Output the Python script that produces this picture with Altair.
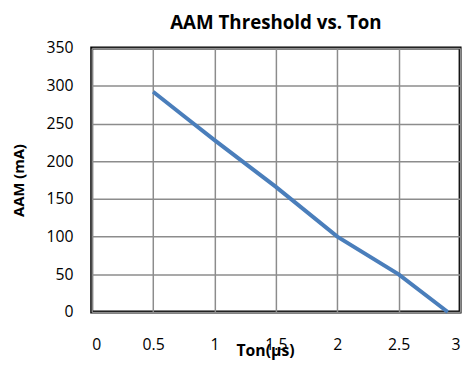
import altair as alt
import pandas as pd

ton_us = [0.5, 0.75, 1.0, 1.5, 2.0, 2.5, 2.9]
aam_ma = [292, 260, 228, 166, 100, 50, 0]
x_ticks = [0, 0.5, 1, 1.5, 2, 2.5, 3]
y_ticks = [0, 50, 100, 150, 200, 250, 300, 350]

df = pd.DataFrame({"ton": ton_us, "aam": aam_ma})

FONT = "Open Sans"

chart = alt.Chart(df).mark_line(color="#4a7ebb", strokeWidth=4, strokeCap="butt").encode(
    x=alt.X("ton:Q", scale=alt.Scale(domain=[0, 3], nice=False),
            axis=alt.Axis(values=x_ticks, title="Ton(µs)", format="~g",
                          labelPadding=25, titleX=176, titleY=44, titleBaseline="alphabetic",
                          titleFontSize=16, titleAnchor=None)),
    y=alt.Y("aam:Q", scale=alt.Scale(domain=[0, 350], nice=False),
            axis=alt.Axis(values=y_ticks, title="AAM (mA)",
                          labelPadding=19, titleX=-74, titleY=134, titleAngle=270,
                          titleFontSize=15, titleBaseline="middle")),
).properties(
    width=374, height=268,
    title=alt.TitleParams("AAM Threshold vs. Ton", anchor="middle", offset=7,
                          font=FONT, fontSize=19, fontWeight="bold", color="black"),
    padding={"left": 85, "top": 38, "right": 6, "bottom": 46},
    autosize=alt.AutoSizeParams(type="none"),
).configure_view(
    stroke="black", strokeWidth=3
).configure_axis(
    grid=True, gridColor="#8c8c8c", gridWidth=1.5, ticks=False, domain=False,
    labelFont=FONT, labelFontSize=16, labelColor="black",
    titleFont=FONT, titleFontWeight="bold", titleColor="black",
)

chart.save("out.html", embed_options={"renderer": "svg", "actions": False})
